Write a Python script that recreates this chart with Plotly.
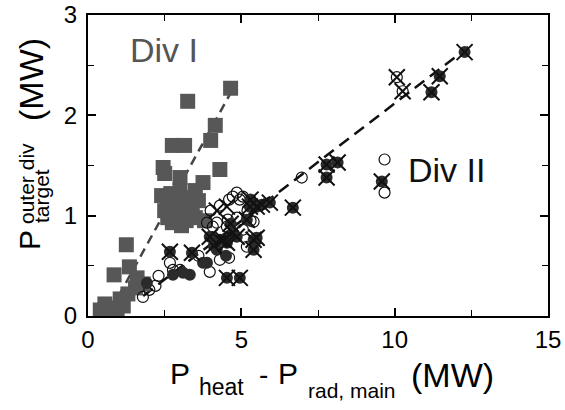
import plotly.graph_objects as go

# ---- data ----
div1_x = [4.65, 3.25, 4.15, 2.75, 3.15, 4.0, 2.45, 4.3, 2.5, 3.0, 3.75, 2.4, 2.7, 3.0, 3.3, 3.6,
          2.5, 2.85, 3.2, 3.5, 2.75, 3.05, 3.8, 1.25, 0.85, 1.35, 1.6, 1.8, 0.55, 0.75, 0.95,
          1.15, 0.65, 1.05, 1.3, 1.55, 0.4, 2.6, 2.9, 3.4, 3.2, 3.5, 2.6]
div1_y = [2.27, 2.14, 1.9, 1.7, 1.7, 1.75, 1.48, 1.46, 1.42, 1.38, 1.33, 1.2, 1.22, 1.25, 1.18, 1.15,
          1.05, 1.02, 1.05, 0.98, 0.93, 0.9, 0.95, 0.71, 0.41, 0.49, 0.38, 0.32, 0.12, 0.08, 0.05,
          0.1, 0.02, 0.17, 0.22, 0.28, 0.06, 1.12, 1.12, 1.1, 0.95, 1.25, 0.98]

div2_open_x = [9.67, 9.67, 6.97, 5.4, 2.67, 3.0, 3.97, 4.3, 4.6, 4.2, 5.05, 5.18, 3.88, 4.56, 2.0,
               4.85, 4.6, 5.05, 4.53, 4.72, 4.95, 4.07, 2.77, 1.79, 4.85, 10.07, 10.26, 3.6, 4.0,
               4.3, 2.3, 2.2, 5.3, 5.2]
div2_open_y = [1.56, 1.23, 1.38, 0.94, 0.53, 0.46, 0.44, 0.56, 0.58, 0.93, 0.86, 0.69, 0.93, 0.96, 0.26,
               0.98, 1.16, 1.19, 0.89, 1.19, 1.16, 0.89, 0.46, 0.19, 1.23, 2.38, 2.24, 0.6, 1.05,
               1.1, 0.4, 0.3, 0.95, 1.05]

div2_dark_x = [12.28, 11.47, 11.2, 9.58, 7.78, 8.14, 7.78, 6.68, 5.93, 5.5, 5.3, 5.4, 5.4, 2.67, 3.39,
               4.53, 4.95, 4.3, 4.72, 5.5, 5.28, 5.67, 4.53, 5.18, 3.97, 4.4, 4.85,
               3.88, 3.32, 2.77, 1.92, 3.1, 3.75, 4.2, 4.5, 4.1, 4.65]
div2_dark_y = [2.63, 2.39, 2.23, 1.34, 1.51, 1.53, 1.38, 1.08, 1.13, 1.09, 1.16, 0.76, 0.66, 0.64, 0.63,
               0.38, 0.38, 0.76, 0.83, 0.78, 1.09, 1.11, 0.73, 0.96, 0.79, 0.76, 0.79,
               0.53, 0.41, 0.41, 0.33, 0.43, 0.53, 0.66, 0.6, 0.7, 0.92]

cross_x = [12.28, 11.47, 11.2, 9.58, 7.78, 8.14, 7.78, 6.68, 5.93, 5.5, 5.3, 5.4, 5.4, 2.67, 3.39,
           4.53, 4.95, 4.3, 4.72, 5.5, 5.28, 5.67, 4.53, 5.18, 3.97, 4.4, 4.85,
           10.07, 10.26, 4.53, 4.2, 4.1, 4.65]
cross_y = [2.63, 2.39, 2.23, 1.34, 1.51, 1.53, 1.38, 1.08, 1.13, 1.09, 1.16, 0.76, 0.66, 0.64, 0.63,
           0.38, 0.38, 0.76, 0.83, 0.78, 1.09, 1.11, 0.73, 0.96, 0.79, 0.76, 0.79,
           2.38, 2.24, 1.09, 1.05, 0.7, 0.92]

fit1_x = [1.0, 4.7]
fit1_y = [0.2, 2.25]
fit2_x = [1.8, 12.4]
fit2_y = [0.2, 2.68]

x_ticks = [0, 5, 10, 15]
y_ticks = [0, 1, 2, 3]

FONT = "Liberation Sans, Arial, Helvetica, sans-serif"

fig = go.Figure()
fig.add_trace(go.Scatter(x=fit1_x, y=fit1_y, mode="lines",
                         line=dict(color="#444444", width=2.5, dash="9px,6px")))
fig.add_trace(go.Scatter(x=fit2_x, y=fit2_y, mode="lines",
                         line=dict(color="#111111", width=2.5, dash="12px,7px")))
fig.add_trace(go.Scatter(x=div1_x, y=div1_y, mode="markers",
                         marker=dict(symbol="square", size=15, color="#575757",
                                     line=dict(width=0))))
fig.add_trace(go.Scatter(x=div2_open_x, y=div2_open_y, mode="markers",
                         marker=dict(symbol="circle-open", size=11, color="#111111",
                                     line=dict(width=1.2))))
fig.add_trace(go.Scatter(x=div2_dark_x, y=div2_dark_y, mode="markers",
                         marker=dict(symbol="circle", size=12, color="#2b2b2b",
                                     line=dict(width=0))))
fig.add_trace(go.Scatter(x=cross_x, y=cross_y, mode="markers",
                         marker=dict(symbol="x-thin-open", size=16, color="#111111",
                                     line=dict(width=2, color="#111111"))))

L, R, T, B = 88, 17, 15, 94
W, H = 565, 410
pw, ph = W - L - R, H - T - B


def px(xp):
    return (xp - L) / pw


def py(yp):
    return (H - B - yp) / ph


ann = []


def add(text, xp, yp, size, angle=0, color="black"):
    ann.append(dict(text=text, x=px(xp), y=py(yp), xref="paper", yref="paper",
                    showarrow=False, xanchor="center", yanchor="middle",
                    textangle=angle, font=dict(size=size, color=color, family=FONT)))


# x-axis title pieces
add("P", 180, 373, 30)
add("heat", 221, 387, 23)
add("-", 263, 374, 28)
add("P", 288, 373, 30)
add("rad, main", 352, 390, 21)
add("(MW)", 452, 375, 34)
# y-axis title pieces
add("P", 29, 240, 30, -90)
add("outer div", 26, 184, 21, -90)
add("target", 41, 196, 21, -90)
add("(MW)", 31, 80, 34, -90)
# in-plot labels
add("Div I", 164, 50, 34, 0, "#555555")
add("Div II", 446, 170, 34, 0, "#111111")

fig.update_layout(
    width=W, height=H, margin=dict(l=L, r=R, t=T, b=B, autoexpand=False),
    paper_bgcolor="white", plot_bgcolor="white", showlegend=False,
    font=dict(family=FONT, size=24, color="black"),
    annotations=ann,
)
fig.update_xaxes(range=[0, 15], tickvals=x_ticks, ticktext=[str(v) for v in x_ticks],
                 ticks="inside", ticklen=8, tickwidth=1.5, tickcolor="black",
                 minor=dict(dtick=2.5, ticks="inside", ticklen=6, tickwidth=1.2, tickcolor="black"),
                 showline=True, linecolor="black", linewidth=2, mirror="ticks",
                 showgrid=False, zeroline=False, tickfont=dict(size=24, family=FONT),
                 ticklabelstandoff=1, automargin=False)
fig.update_yaxes(range=[0, 3], tickvals=y_ticks, ticktext=[str(v) for v in y_ticks],
                 ticks="inside", ticklen=8, tickwidth=1.5, tickcolor="black",
                 minor=dict(dtick=0.5, ticks="inside", ticklen=6, tickwidth=1.2, tickcolor="black"),
                 showline=True, linecolor="black", linewidth=2, mirror="ticks",
                 showgrid=False, zeroline=False, tickfont=dict(size=24, family=FONT),
                 ticklabelstandoff=4, automargin=False)

fig.write_html("out.html", config={"displayModeBar": False},
               post_script="document.body.style.margin='0px';document.body.style.overflow='hidden';")
